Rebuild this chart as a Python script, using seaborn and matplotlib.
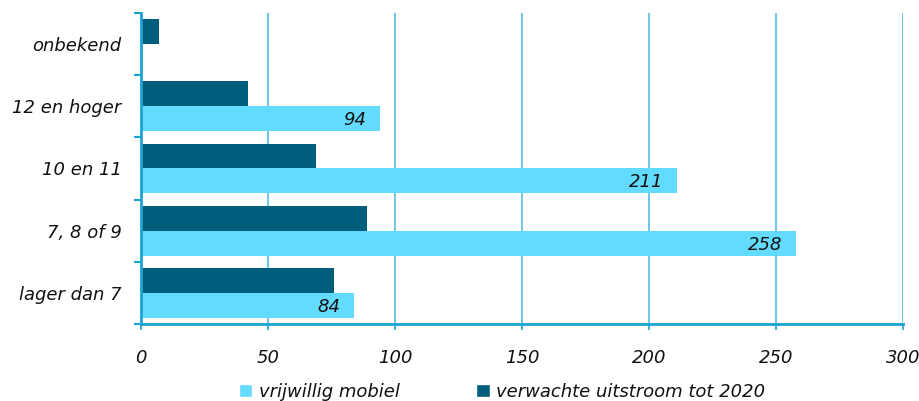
import numpy as np
import pandas as pd
import matplotlib
matplotlib.use("Agg")
import matplotlib.pyplot as plt
import seaborn as sns
from matplotlib.patches import Patch
from matplotlib.ticker import FixedLocator

categories = ["onbekend", "12 en hoger", "10 en 11", "7, 8 of 9", "lager dan 7"]
uitstroom = [7, 42, 69, 89, 76]
vrijwillig = [np.nan, 94, 211, 258, 84]
series_names = ["verwachte uitstroom tot 2020", "vrijwillig mobiel"]
x_ticks = [0, 50, 100, 150, 200, 250, 300]

dark = "#005E7D"
light = "#63DBFF"
axis_col = "#1AA3D4"
grid_col = "#4FBFE3"
txt = "#111111"
fs = 13

sns.set_style("white")
plt.rcParams["font.family"] = ["DejaVu Sans"]
plt.rcParams["font.style"] = "italic"

df = pd.DataFrame({
    "categorie": categories * 2,
    "waarde": uitstroom + vrijwillig,
    "reeks": [series_names[0]] * len(categories) + [series_names[1]] * len(categories),
})

fig = plt.figure(figsize=(9.2, 4.01), dpi=100)
ax = fig.add_axes([141 / 920, 1 - 324 / 401, (903 - 141) / 920, (324 - 13) / 401])

sns.barplot(data=df, y="categorie", x="waarde", hue="reeks", order=categories,
            hue_order=series_names, palette=[dark, light], orient="h",
            width=0.8, saturation=1, ax=ax, legend=False, errorbar=None,
            linewidth=0, edgecolor="none")

ax.set_xlim(0, 300)
ax.set_ylim(len(categories) - 0.5, -0.5)
ax.set_xlabel("")
ax.set_ylabel("")
ax.set_xticks(x_ticks)
ax.set_xticklabels([str(t) for t in x_ticks], fontsize=fs, style="italic", color=txt)
ax.tick_params(axis="x", bottom=True, length=4, width=1.2, color=axis_col, pad=14)
ax.xaxis.grid(True, color=grid_col, linewidth=1.2)
ax.set_axisbelow(True)

ax.set_yticks(range(len(categories)))
ax.set_yticklabels(categories, fontsize=fs, style="italic", color=txt)
ax.tick_params(axis="y", which="major", left=False, length=0, pad=14)
ax.yaxis.set_minor_locator(FixedLocator(np.arange(-0.5, len(categories), 1.0)))
ax.tick_params(axis="y", which="minor", left=True, length=5, width=1.5, color=axis_col)

for s in ["top", "right"]:
    ax.spines[s].set_visible(False)
ax.spines["left"].set_color(axis_col)
ax.spines["left"].set_linewidth(2)
ax.spines["bottom"].set_color(axis_col)
ax.spines["bottom"].set_linewidth(2)

# value labels on light bars
light_container = ax.containers[1]
for bar in light_container:
    if bar is None:
        continue
    w = bar.get_width()
    if not np.isfinite(w) or w == 0:
        continue
    ax.annotate(f"{int(round(w))}", xy=(w, bar.get_y() + bar.get_height() / 2),
                xytext=(-10, -1), textcoords="offset points", ha="right", va="center",
                fontsize=fs, style="italic", color=txt)

handles = [Patch(facecolor=light, label=series_names[1]),
           Patch(facecolor=dark, label=series_names[0])]
leg = fig.legend(handles=handles, loc="center", bbox_to_anchor=(502 / 920, 1 - 392 / 401),
                 ncol=2, frameon=False, handlelength=0.75, handleheight=0.75,
                 handletextpad=0.35, columnspacing=4.25, prop={"style": "italic", "size": fs})
for t in leg.get_texts():
    t.set_color(txt)

fig.savefig("out.png", dpi=100)
